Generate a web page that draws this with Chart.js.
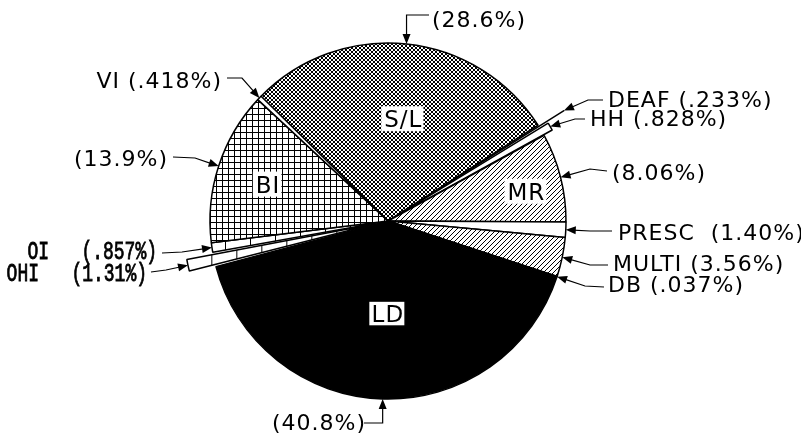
<!DOCTYPE html>
<html>
<head>
<meta charset="utf-8">
<title>Pie chart</title>
<script src="https://cdn.jsdelivr.net/npm/chart.js@4.4.1/dist/chart.umd.min.js"></script>
<style>
    html, body { margin: 0; padding: 0; background: #fff; }
    canvas { display: block; }
</style>
</head>
<body>
<canvas id="graficoPie" width="801" height="436"></canvas>
<script>
// data, clockwise from the top-left edge of S/L
const categories = ['S/L', 'DEAF', 'HH', 'MR', 'PRESC', 'MULTI', 'DB', 'LD', 'OHI', 'OI', 'BI', 'VI'];
const percents = [28.6, 0.233, 0.828, 8.06, 1.40, 3.56, 0.037, 40.8, 1.31, 0.857, 13.9, 0.418];
const percentText = ['28.6', '.233', '.828', '8.06', '1.40', '3.56', '.037', '40.8', '1.31', '.857', '13.9', '.418'];

// categories that get their name written inside the slice
const insideNames = ['S/L', 'BI', 'MR', 'LD'];

// small fill patterns, drawn pixel by pixel
function makePattern(w, h, isBlack) {
    const c = document.createElement('canvas');
    c.width = w;
    c.height = h;
    const p = c.getContext('2d');
    p.fillStyle = '#fff';
    p.fillRect(0, 0, w, h);
    p.fillStyle = '#000';
    for (let x = 0; x < w; x++) {
        for (let y = 0; y < h; y++) {
            if (isBlack(x, y)) p.fillRect(x, y, 1, 1);
        }
    }
    return p.createPattern(c, 'repeat');
}

// the S/L cross hatch looks better with real (soft) lines
function makeCrossHatch(size, width) {
    const c = document.createElement('canvas');
    c.width = size;
    c.height = size;
    const p = c.getContext('2d');
    p.fillStyle = '#fff';
    p.fillRect(0, 0, size, size);
    p.strokeStyle = '#000';
    p.lineWidth = width;
    p.beginPath();
    for (let k = -1; k <= 1; k++) {
        p.moveTo(k * size, 0);
        p.lineTo(k * size + size, size);
        p.moveTo(k * size, size);
        p.lineTo(k * size + size, 0);
    }
    p.stroke();
    return p.createPattern(c, 'repeat');
}

const crossHatch = makeCrossHatch(4, 1.0);
const grid = makePattern(6, 6, (x, y) => x === 0 || y === 0);
const hatch = makePattern(5, 5, (x, y) => (x + y) % 5 === 0);
const bricks = makePattern(25, 1, (x, y) => x === 0);

const fills = [crossHatch, '#fff', '#fff', hatch, '#fff', hatch, '#fff', '#000', bricks, bricks, grid, '#fff'];
const explode = [0, 60, 20, 0, 0, 0, 0, 0, 56, 0, 0, 0];

// where each callout text sits and how its leader line runs
const callouts = {
    'S/L':   { x: 432, y: 19,  align: 'left',  from: [429, 15], elbow: 'vertical' },
    'DEAF':  { x: 608, y: 99,  align: 'left',  from: [603, 100], elbow: [588, 100] },
    'HH':    { x: 590, y: 118, align: 'left',  from: [585, 119], elbow: [575, 119] },
    'MR':    { x: 612, y: 172, align: 'left',  from: [607, 171], elbow: [590, 169] },
    'PRESC': { x: 618, y: 232, align: 'left',  from: [612, 231], elbow: [590, 231] },
    'MULTI': { x: 613, y: 263, align: 'left',  from: [608, 265], elbow: [590, 265] },
    'DB':    { x: 608, y: 284, align: 'left',  from: [604, 287], elbow: [585, 286] },
    'LD':    { x: 272, y: 422, align: 'left',  from: [364, 423], elbow: 'vertical' },
    'OHI':   { x: 147, y: 273, align: 'right', from: [151, 272], elbow: [166, 270], mono: true },
    'OI':    { x: 157, y: 251, align: 'right', from: [162, 253], elbow: [182, 252], mono: true },
    'BI':    { x: 168, y: 158, align: 'right', from: [173, 157], elbow: [195, 158] },
    'VI':    { x: 222, y: 80,  align: 'right', from: [227, 78],  elbow: [242, 78] }
};

const insideSpots = {
    'S/L': { r: 0.58, turn: 2 },
    'BI':  { r: 0.71, turn: -1 },
    'MR':  { r: 0.79, turn: 2 },
    'LD':  { r: 0.52, turn: -1, boxed: true }
};

function calloutText(i) {
    const name = categories[i];
    const pct = '(' + percentText[i] + '%)';
    if (insideNames.includes(name)) return pct;
    if (name === 'OHI' || name === 'OI') return name + '   ' + pct;
    if (name === 'PRESC') return name + '  ' + pct;
    return name + ' ' + pct;
}

// how far chart.js actually pushes an exploded arc
function shiftOf(arc) {
    const off = arc.options.offset || 0;
    const circ = arc.endAngle - arc.startAngle;
    return off / 4 + off / 4 * (1 - Math.sin(Math.min(Math.PI, circ)));
}

const calloutPlugin = {
    id: 'callouts',
    afterDatasetsDraw(chart) {
        const ctx = chart.ctx;
        const arcs = chart.getDatasetMeta(0).data;
        ctx.save();

        arcs.forEach((arc, i) => {
            const name = categories[i];
            const c = callouts[name];
            const mid = (arc.startAngle + arc.endAngle) / 2;
            const r = arc.outerRadius + shiftOf(arc);
            const tip = [arc.x + Math.cos(mid) * r, arc.y + Math.sin(mid) * r];
            const elbow = c.elbow === 'vertical' ? [tip[0], c.from[1]] : c.elbow;

            // leader line
            ctx.strokeStyle = '#000';
            ctx.lineWidth = 1.2;
            const dx = tip[0] - elbow[0];
            const dy = tip[1] - elbow[1];
            const len = Math.sqrt(dx * dx + dy * dy);
            const ux = dx / len, uy = dy / len;
            ctx.beginPath();
            ctx.moveTo(c.from[0], c.from[1]);
            ctx.lineTo(elbow[0], elbow[1]);
            ctx.lineTo(tip[0] - ux * 7, tip[1] - uy * 7);
            ctx.stroke();

            // arrow head
            ctx.fillStyle = '#000';
            ctx.beginPath();
            ctx.moveTo(tip[0], tip[1]);
            ctx.lineTo(tip[0] - ux * 10 - uy * 4, tip[1] - uy * 10 + ux * 4);
            ctx.lineTo(tip[0] - ux * 10 + uy * 4, tip[1] - uy * 10 - ux * 4);
            ctx.closePath();
            ctx.fill();

            // text
            ctx.textAlign = c.align;
            ctx.textBaseline = 'alphabetic';
            if (c.mono) {
                // tall, narrow typewriter lettering
                ctx.save();
                ctx.font = '18px "Liberation Mono"';
                ctx.letterSpacing = '0px';
                ctx.lineWidth = 0.6;
                ctx.translate(c.x, c.y + 8);
                ctx.scale(1, 1.45);
                ctx.fillText(calloutText(i), 0, 0);
                ctx.strokeText(calloutText(i), 0, 0);
                ctx.restore();
            } else {
                ctx.font = '22px "DejaVu Sans"';
                ctx.letterSpacing = '1px';
                ctx.fillText(calloutText(i), c.x, c.y + 8);
            }

            // name inside the slice
            const spot = insideSpots[name];
            if (spot) {
                const a = mid + spot.turn * Math.PI / 180;
                const px = arc.x + Math.cos(a) * arc.outerRadius * spot.r;
                const py = arc.y + Math.sin(a) * arc.outerRadius * spot.r;
                ctx.font = '23px "DejaVu Sans"';
                ctx.letterSpacing = '1px';
                const w = ctx.measureText(name).width + 4;
                const h = 25;
                ctx.fillStyle = '#fff';
                ctx.fillRect(px - w / 2, py - h / 2, w, h);
                if (spot.boxed) {
                    ctx.lineWidth = 1.5;
                    ctx.strokeRect(px - w / 2, py - h / 2, w, h);
                }
                ctx.fillStyle = '#000';
                ctx.textAlign = 'center';
                ctx.fillText(name, px + 1, py + 8.5);
            }
        });

        ctx.restore();
    }
};

const ctx1 = document.getElementById('graficoPie');

new Chart(ctx1, {
    type: 'pie',
    data: {
        labels: categories,
        datasets: [{
            data: percents,
            backgroundColor: fills,
            borderColor: '#000',
            borderWidth: 1.5,
            offset: explode
        }]
    },
    options: {
        responsive: false,
        animation: false,
        devicePixelRatio: 1,
        rotation: 314.5,
        radius: 178,
        layout: {
            padding: { left: 0, right: 25, top: 6, bottom: 0 }
        },
        plugins: {
            legend: { display: false },
            tooltip: { enabled: false }
        }
    },
    plugins: [calloutPlugin]
});
</script>
</body>
</html>
